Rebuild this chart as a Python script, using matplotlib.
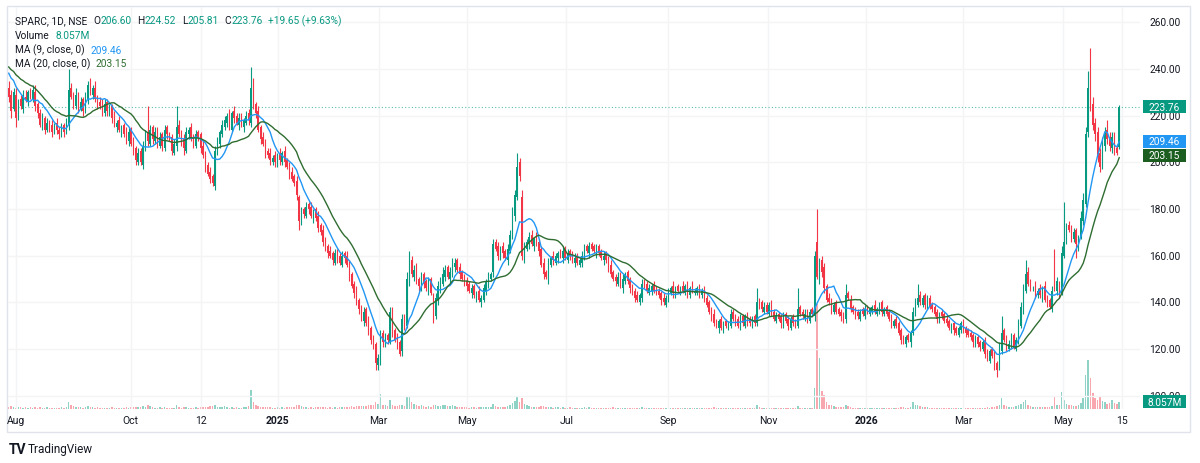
import numpy as np
import pandas as pd
import matplotlib.pyplot as plt
from matplotlib import transforms
from matplotlib.patches import Rectangle

plt.rcParams['font.family'] = ['Roboto', 'DejaVu Sans']

# closes before the first visible candle (only feed the moving averages)
warmup_closes = [246, 244, 248, 243, 245, 241, 244, 240, 242, 238,
                 243, 241, 239, 242, 240, 238, 241, 239, 236]

opens = [
    232, 229, 223, 229, 220, 227, 223, 228, 226, 230,
    227, 230, 225, 221, 216, 219, 214, 217, 216, 213,
    217, 214, 212, 216, 213, 216, 232, 228, 224, 229,
    223, 227, 222, 227, 234, 229, 232, 228, 226, 225,
    221, 226, 221, 224, 220, 215, 218, 213, 216, 213,
    209, 214, 209, 206, 200, 205, 199, 206, 213, 208,
    215, 209, 214, 207, 212, 206, 215, 211, 211, 204,
    207, 216, 213, 210, 205, 212, 215, 211, 207, 213,
    212, 207, 204, 199, 196, 194, 190, 204, 208, 212,
    215, 217, 221, 214, 222, 220, 216, 220, 215, 217,
    221, 217, 233, 225, 222, 215, 211, 209, 205, 204,
    200, 203, 199, 204, 200, 205, 201, 199, 196, 194,
    192, 185, 174, 180, 177, 182, 181, 176, 180, 177,
    173, 171, 167, 164, 162, 161, 157, 162, 160, 156,
    161, 160, 157, 152, 148, 145, 141, 138, 132, 137,
    132, 129, 125, 122, 113, 114, 127, 122, 126, 123,
    135, 128, 125, 123, 119, 134, 130, 149, 158, 151,
    155, 150, 146, 152, 149, 145, 150, 143, 134, 141,
    146, 148, 151, 155, 150, 152, 155, 158, 155, 153,
    151, 149, 148, 144, 147, 142, 145, 140, 141, 145,
    148, 150, 153, 166, 164, 159, 164, 162, 158, 162,
    168, 177, 185, 200, 185, 159, 163, 165, 169, 164,
    168, 166, 163, 157, 153, 150, 156, 160, 157, 159,
    162, 159, 163, 158, 162, 161, 157, 160, 156, 157,
    159, 164, 161, 165, 164, 161, 164, 162, 158, 161,
    159, 156, 153, 151, 148, 152, 146, 149, 153, 150,
    147, 145, 143, 140, 142, 149, 148, 144, 145, 148,
    146, 145, 144, 142, 139, 141, 144, 147, 143, 147,
    144, 147, 144, 148, 143, 147, 144, 144, 147, 143,
    146, 142, 140, 137, 135, 132, 129, 133, 128, 132,
    129, 130, 136, 134, 133, 129, 134, 130, 135, 133,
    130, 134, 131, 141, 140, 136, 139, 135, 140, 136,
    132, 135, 134, 130, 135, 133, 129, 134, 132, 130,
    138, 136, 133, 136, 132, 137, 134, 166, 150, 158,
    155, 147, 142, 141, 136, 140, 137, 136, 135, 133,
    144, 141, 138, 137, 136, 133, 137, 134, 138, 135,
    136, 139, 135, 136, 140, 135, 138, 136, 134, 130,
    133, 131, 128, 125, 122, 126, 123, 127, 135, 139,
    143, 139, 143, 138, 142, 139, 138, 136, 132, 136,
    135, 133, 132, 128, 131, 129, 126, 128, 132, 129,
    128, 127, 126, 122, 125, 123, 120, 124, 119, 115,
    120, 118, 114, 112, 119, 128, 125, 120, 121, 126,
    120, 123, 130, 137, 145, 153, 149, 146, 147, 143,
    146, 142, 147, 142, 141, 137, 151, 145, 148, 144,
    160, 167, 173, 172, 167, 171, 164, 168, 175, 182,
    213, 238, 225, 217, 213, 204, 199, 207, 214, 211,
    206, 212, 206, 206.60,
]

closes = [
    228, 222, 230, 219, 226, 224, 229, 227, 230, 228,
    231, 224, 221, 216, 219, 214, 217, 215, 213, 216,
    214, 212, 215, 213, 217, 231, 228, 225, 229, 223,
    226, 222, 228, 233, 230, 232, 227, 225, 224, 222,
    225, 222, 223, 219, 216, 217, 214, 215, 212, 210,
    213, 208, 205, 201, 204, 200, 207, 212, 209, 214,
    210, 213, 208, 211, 207, 214, 212, 210, 205, 208,
    215, 212, 209, 206, 213, 214, 210, 208, 212, 211,
    206, 203, 198, 195, 193, 191, 205, 209, 213, 216,
    218, 220, 215, 221, 219, 217, 219, 216, 218, 220,
    218, 232, 224, 221, 214, 210, 208, 204, 203, 201,
    202, 200, 203, 201, 204, 200, 198, 195, 193, 191,
    186, 175, 179, 178, 181, 180, 177, 179, 176, 172,
    170, 166, 163, 161, 160, 158, 161, 159, 157, 160,
    159, 156, 151, 147, 144, 140, 137, 133, 136, 131,
    128, 124, 121, 114, 116, 126, 123, 125, 124, 136,
    127, 124, 122, 118, 133, 129, 150, 157, 152, 154,
    149, 147, 151, 148, 146, 149, 144, 133, 142, 147,
    149, 152, 154, 151, 153, 156, 157, 154, 152, 150,
    148, 147, 145, 146, 143, 144, 141, 142, 146, 149,
    151, 152, 165, 163, 160, 163, 161, 159, 163, 169,
    178, 186, 198, 194, 160, 164, 166, 168, 165, 167,
    165, 162, 156, 152, 151, 157, 159, 158, 160, 161,
    160, 162, 159, 161, 160, 158, 159, 157, 158, 160,
    163, 162, 164, 163, 162, 163, 161, 159, 160, 158,
    155, 152, 150, 149, 151, 147, 150, 152, 149, 146,
    144, 142, 141, 143, 148, 147, 145, 146, 147, 145,
    144, 143, 141, 140, 142, 145, 146, 144, 146, 145,
    146, 145, 147, 144, 146, 145, 145, 146, 144, 145,
    141, 139, 136, 134, 131, 130, 132, 129, 131, 130,
    131, 135, 133, 132, 130, 133, 131, 134, 132, 131,
    133, 131, 140, 139, 137, 138, 136, 139, 135, 133,
    134, 133, 131, 134, 132, 130, 133, 131, 130, 137,
    135, 134, 135, 133, 136, 135, 160, 151, 156, 153,
    146, 141, 140, 137, 139, 136, 135, 134, 132, 143,
    142, 137, 136, 135, 134, 136, 135, 137, 136, 137,
    138, 136, 137, 139, 136, 137, 135, 133, 131, 132,
    130, 127, 124, 123, 125, 124, 127, 136, 140, 142,
    140, 142, 139, 141, 138, 137, 135, 133, 135, 134,
    132, 131, 129, 130, 128, 127, 129, 131, 128, 127,
    126, 125, 123, 124, 122, 121, 123, 118, 116, 119,
    117, 113, 111, 121, 127, 124, 121, 122, 125, 121,
    124, 131, 138, 146, 152, 148, 147, 146, 144, 145,
    143, 146, 141, 140, 138, 145, 146, 149, 143, 161,
    166, 172, 171, 168, 170, 165, 167, 176, 184, 212,
    232, 224, 216, 212, 203, 198, 208, 213, 210, 207,
    211, 205, 204, 223.76,
]

# wick length above / below the body
upper_wicks = [
    3, 2, 2, 3, 1, 2, 2, 3, 1, 2,  2, 3, 1, 2, 2, 1, 2, 1, 2, 1,
    2, 1, 2, 1, 2, 9, 2, 2, 3, 1,  2, 1, 2, 2, 2, 1, 3, 1, 2, 2,
    2, 1, 2, 1, 2, 1, 2, 1, 1, 2,  2, 1, 2, 1, 2, 1, 2, 2, 11, 2,
    1, 2, 1, 2, 1, 2, 1, 2, 1, 2,  9, 2, 1, 2, 2, 1, 2, 1, 2, 1,
    1, 2, 1, 1, 2, 1, 2, 2, 1, 2,  2, 1, 2, 1, 2, 1, 2, 1, 1, 2,
    2, 9, 3, 1, 2, 1, 2, 1, 1, 2,  1, 2, 1, 2, 1, 2, 1, 1, 2, 1,
    2, 1, 2, 1, 2, 1, 2, 1, 1, 2,  1, 2, 1, 1, 2, 1, 2, 1, 1, 2,
    1, 2, 1, 1, 1, 2, 1, 1, 2, 1,  2, 1, 1, 1, 2, 2, 1, 2, 1, 2,
    3, 1, 2, 1, 2, 1, 3, 5, 2, 2,  2, 1, 2, 1, 1, 2, 1, 1, 2, 2,
    2, 3, 2, 1, 2, 3, 2, 1, 2, 1,  1, 2, 1, 2, 1, 1, 2, 1, 2, 1,
    2, 1, 2, 1, 2, 1, 2, 1, 2, 2,  3, 2, 6, 2, 3, 2, 1, 2, 2, 1,
    2, 1, 1, 2, 1, 2, 1, 2, 1, 1,  1, 2, 1, 2, 1, 1, 2, 1, 1, 2,
    2, 1, 2, 1, 1, 2, 1, 1, 2, 1,  1, 2, 1, 1, 2, 1, 2, 1, 1, 1,
    1, 1, 2, 1, 2, 1, 1, 2, 1, 1,  1, 1, 1, 2, 1, 1, 1, 2, 1, 1,
    1, 2, 1, 1, 1, 2, 1, 1, 1, 1,  1, 1, 1, 1, 2, 1, 1, 1, 1, 1,
    1, 2, 1, 1, 1, 2, 1, 1, 1, 1,  1, 1, 6, 1, 1, 2, 1, 1, 1, 1,
    2, 1, 1, 2, 1, 1, 1, 1, 1, 9,  1, 1, 2, 1, 1, 1, 2, 14, 3, 2,
    2, 1, 2, 1, 1, 1, 1, 1, 1, 5,  1, 2, 1, 1, 1, 1, 1, 2, 1, 1,
    1, 2, 1, 1, 1, 1, 1, 1, 1, 1,  1, 1, 1, 1, 1, 1, 1, 2, 2, 6,
    2, 1, 1, 2, 1, 1, 1, 1, 1, 1,  1, 1, 1, 1, 1, 1, 1, 1, 1, 1,
    1, 1, 1, 2, 1, 1, 1, 1, 1, 1,  1, 1, 1, 2, 7, 1, 1, 2, 2, 1,
    1, 2, 2, 2, 6, 2, 1, 1, 2, 1,  2, 1, 2, 1, 1, 2, 12, 2, 1, 3,
    17, 2, 2, 1, 2, 1, 2, 3, 3, 3,  7, 11, 3, 2, 2, 2, 3, 2, 4, 2,
    2, 1, 2, 0.76,
]

lower_wicks = [
    2, 3, 1, 4, 2, 1, 2, 1, 2, 1,  1, 2, 2, 1, 2, 2, 1, 2, 2, 1,
    2, 2, 1, 2, 1, 2, 1, 2, 1, 2,  1, 2, 1, 2, 1, 2, 1, 2, 1, 2,
    1, 2, 1, 2, 1, 2, 1, 2, 1, 2,  2, 1, 2, 2, 1, 1, 2, 1, 2, 1,
    2, 1, 2, 1, 2, 1, 2, 1, 2, 1,  2, 1, 2, 3, 1, 2, 1, 2, 1, 2,
    2, 1, 2, 1, 2, 1, 2, 1, 2, 1,  1, 2, 1, 1, 2, 1, 2, 1, 2, 1,
    2, 2, 1, 2, 1, 2, 1, 2, 1, 2,  1, 2, 1, 2, 1, 2, 1, 2, 1, 1,
    2, 4, 1, 2, 1, 2, 1, 2, 1, 2,  1, 2, 1, 2, 1, 2, 1, 2, 1, 1,
    2, 1, 2, 1, 2, 1, 2, 1, 2, 1,  2, 2, 1, 3, 2, 1, 2, 1, 2, 1,
    2, 1, 2, 1, 2, 1, 1, 2, 1, 2,  1, 2, 1, 2, 1, 2, 1, 2, 1, 2,
    2, 1, 2, 1, 2, 1, 2, 1, 2, 1,  1, 2, 1, 2, 1, 2, 1, 2, 1, 2,
    2, 1, 2, 1, 2, 1, 2, 1, 2, 1,  1, 2, 1, 2, 2, 2, 1, 2, 1, 2,
    1, 2, 1, 2, 1, 2, 1, 2, 1, 2,  1, 2, 1, 1, 2, 1, 2, 1, 1, 2,
    1, 1, 2, 1, 1, 2, 1, 1, 2, 1,  2, 1, 1, 2, 1, 1, 2, 1, 1, 2,
    1, 2, 1, 1, 2, 1, 1, 1, 2, 1,  1, 1, 2, 1, 1, 1, 1, 2, 1, 1,
    1, 1, 1, 2, 1, 1, 1, 1, 2, 1,  1, 1, 1, 2, 1, 1, 2, 1, 1, 1,
    1, 1, 1, 2, 1, 1, 1, 1, 2, 1,  1, 1, 1, 2, 1, 1, 1, 1, 1, 1,
    1, 1, 2, 1, 1, 2, 1, 1, 1, 1,  1, 1, 1, 2, 1, 1, 2, 1, 2, 2,
    2, 1, 1, 2, 1, 1, 1, 2, 1, 2,  1, 1, 1, 2, 1, 1, 1, 1, 1, 1,
    1, 1, 1, 1, 2, 1, 1, 1, 2, 1,  1, 1, 2, 1, 1, 1, 2, 1, 1, 1,
    1, 1, 2, 1, 1, 1, 1, 2, 1, 1,  1, 1, 1, 1, 2, 1, 1, 1, 1, 2,
    1, 1, 2, 1, 1, 2, 1, 2, 1, 1,  1, 2, 3, 1, 1, 1, 2, 1, 1, 1,
    1, 1, 1, 2, 1, 1, 2, 1, 2, 1,  1, 2, 1, 2, 1, 1, 1, 2, 1, 1,
    1, 2, 1, 2, 1, 6, 2, 1, 2, 1,  2, 2, 2, 3, 3, 2, 2, 2, 2, 2,
    2, 2, 1, 0.79,
]

# volume in millions
volumes = [
    2, 3, 2, 1.5, 2, 2, 1.5, 2, 1.5, 2,  1.5, 2, 1.5, 2, 1, 1.5, 2, 1.5, 1, 1.5,
    1.5, 1, 2, 1.5, 2, 8, 4, 3, 2, 2,  2, 1.5, 2, 3, 2, 2, 1.5, 2, 1.5, 1.5,
    1.5, 1, 1.5, 2, 1.5, 1, 1.5, 1, 1.5, 2,  1.5, 2, 2, 2.5, 2, 2.5, 3, 2.5, 5, 3,
    2, 1.5, 1.5, 2, 1.5, 2, 1.5, 1, 1.5, 1.5,  4, 2, 1.5, 2, 2, 1.5, 1, 1.5, 2, 1.5,
    2, 2, 2.5, 2, 3, 3, 4, 2.5, 2, 2,  3, 2, 1.5, 2, 1.5, 2, 1.5, 1.5, 2, 2,
    3, 22, 8, 4, 3, 2.5, 2, 2, 2, 2,  1.5, 1.5, 2, 1.5, 2, 1.5, 2, 2, 2.5, 2,
    4, 5, 3, 2, 2, 1.5, 2, 1.5, 2, 2.5,  2.5, 2, 2, 1.5, 2, 1.5, 2, 1.5, 2, 2,
    2, 2, 2.5, 3, 2.5, 3, 3, 3.5, 3, 3.5,  4, 5, 4, 8, 6, 17, 5, 4, 3, 10,
    4, 3, 3, 4, 5, 3, 15, 14, 8, 6,  4, 3, 5, 3, 2.5, 3, 2.5, 5, 4, 3,
    3, 4, 5, 3, 3, 4, 3, 2.5, 2, 2,  2, 2, 1.5, 2, 2, 1.5, 2, 2, 2, 2.5,
    2.5, 2, 6, 3, 2, 2.5, 2, 2, 3, 5,  7, 9, 14, 8, 12, 6, 4, 3, 2.5, 2.5,
    2.5, 2, 3, 3, 2.5, 2, 2, 1.5, 2, 2,  1.5, 2, 1.5, 1.5, 2, 1.5, 1.5, 1, 1.5, 1.5,
    2, 1.5, 2, 1.5, 1.5, 1.5, 1, 1.5, 1.5, 1,  1.5, 1.5, 2, 1.5, 1, 1.5, 1.5, 1, 1.5, 1.5,
    1.5, 1.5, 1, 1.5, 2, 1.5, 1, 1, 1.5, 1,  1, 1, 1.5, 1, 1, 1.5, 1, 1, 1, 1,
    1, 1, 1.5, 1, 1, 1, 1, 1.5, 1, 1,  1.5, 1, 1.5, 1.5, 2, 1.5, 1, 1.5, 1, 1,
    1, 1.5, 1, 1, 1, 1.5, 1, 1, 1, 1,  1, 1, 4, 2, 1.5, 1.5, 1, 1.5, 1, 1,
    1, 1, 1, 1.5, 1, 1, 1, 1, 1, 3,  1.5, 1, 1, 1, 1.5, 1, 24, 120, 58, 20,
    16, 8, 5, 4, 3, 2.5, 2, 2, 2, 5,  3, 2, 1.5, 1.5, 1.5, 1, 1.5, 1.5, 1, 1,
    1, 1.5, 1, 1, 1.5, 1, 1, 1, 1.5, 1,  1.5, 1.5, 2, 2, 1.5, 1.5, 2, 8, 5, 4,
    3, 2.5, 2, 2, 1.5, 1.5, 1.5, 1.5, 1, 1,  1, 1, 1, 1, 1, 1, 1, 1.5, 1, 1,
    1, 1, 1, 1, 1.5, 1, 1, 1.5, 2, 1.5,  2, 2.5, 3, 4, 13, 5, 3, 2, 2.5, 2,
    3, 4, 6, 8, 10, 5, 3, 2.5, 2, 2,  2, 2.5, 2, 2, 2, 3, 14, 5, 4, 19,
    10, 6, 5, 4, 3, 3, 4, 7, 12, 39,  56, 35, 18, 12, 10, 14, 9, 8, 6, 7,
    10, 7, 6, 8.057,
]

tick_labels = ['Aug', 'Oct', '12', '2025', 'Mar', 'May', 'Jul', 'Sep', 'Nov',
               '2026', 'Mar', 'May', '15']
tick_idx = [2.9, 50.8, 80, 112.1, 154.2, 191.2, 232.5, 275, 316.7,
            357.5, 398, 439.6, 464.2]
price_ticks = [100, 120, 140, 160, 180, 200, 220, 240, 260]

assert len(opens) == len(closes) == len(upper_wicks) == len(lower_wicks) == len(volumes)

UP = '#089981'
DOWN = '#f23645'
BLUE = '#2196f3'
MA20_LINE = '#2f6d31'
MA20_BADGE = '#1b5e20'
TEXT = '#131722'
GRID = '#f3f4f6'
FS = 7.3

o = np.array(opens, float)
c = np.array(closes, float)
hi = np.maximum(o, c) + np.array(upper_wicks, float)
lo = np.minimum(o, c) - np.array(lower_wicks, float)
x = np.arange(len(c))
up = c >= o
colors = np.where(up, UP, DOWN)

allc = pd.Series(warmup_closes + closes, dtype=float)
nw = len(warmup_closes)
ma9 = allc.rolling(9).mean().iloc[nw:].to_numpy()
ma20 = allc.rolling(20).mean().iloc[nw:].to_numpy()

W, H = 1200, 464
fig = plt.figure(figsize=(12, 4.64), dpi=100)
fig.patch.set_facecolor('white')
L, R, T, B = 8, 1140, 8, 410
ax = fig.add_axes([L / W, 1 - B / H, (R - L) / W, (B - T) / H])
vax = ax.twinx()
ax.set_zorder(vax.get_zorder() + 1)
ax.patch.set_visible(False)

y0, y1 = 94.3, 266.6
vol_top = 458
xlim = (-0.3, (R - L) / 2.4)

# volume
vcol = np.where(up, '#8fd3c7', '#f7a7ad')
vax.bar(x, volumes, width=0.62, color=vcol, linewidth=0)
vax.set_ylim(0, vol_top)
vax.set_xlim(*xlim)
vax.axis('off')

# grid
ax.set_xlim(*xlim)
ax.set_ylim(y0, y1)
ax.set_xticks(tick_idx)
ax.set_yticks(price_ticks)
ax.grid(True, color=GRID, linewidth=1)
ax.tick_params(length=0, labelbottom=False, labelleft=False)
for s in ax.spines.values():
    s.set_visible(False)

# candles
ax.vlines(x, lo, hi, colors=colors, linewidth=0.8, zorder=3)
ax.bar(x, np.maximum(np.abs(c - o), 0.35), bottom=np.minimum(o, c),
       width=0.62, color=colors, linewidth=0, zorder=3)

# moving averages
ax.plot(x, ma9, color=BLUE, linewidth=1, zorder=4)
ax.plot(x, ma20, color=MA20_LINE, linewidth=1, zorder=4)

# last price line
ax.axhline(c[-1], color='#5dbfae', linewidth=0.8, linestyle=(0, (1, 2)), zorder=2)

# right price scale
ty = transforms.blended_transform_factory(fig.transFigure, ax.transData)
for p in price_ticks:
    ax.text(1165 / W, p, f'{p:.2f}', transform=ty, ha='center', va='center',
            fontsize=FS, color=TEXT, clip_on=False, zorder=5)

units_per_px = (y1 - y0) / (B - T)


def badge(yval, label, color):
    h = 13 * units_per_px
    ax.add_patch(Rectangle((1143 / W, yval - h / 2), 43 / W, h, transform=ty,
                           facecolor=color, edgecolor='none', clip_on=False, zorder=6))
    ax.text(1164.5 / W, yval, label, transform=ty, ha='center', va='center',
            fontsize=FS, color='white', clip_on=False, zorder=7)


badge(c[-1], f'{c[-1]:.2f}', UP)
badge(ma9[-1] + 0.2, '209.46', BLUE)
badge(ma20[-1] + 1.0, '203.15', MA20_BADGE)
badge(y0 + volumes[-1] / vol_top * (y1 - y0), '8.057M', UP)

# time scale
tx = transforms.blended_transform_factory(ax.transData, fig.transFigure)
for i, lab in zip(tick_idx, tick_labels):
    bold = lab in ('2025', '2026')
    ax.text(i, 1 - 421 / H, lab, transform=tx, ha='center', va='center',
            fontsize=7.5, color=TEXT, fontweight='bold' if bold else 'normal',
            clip_on=False)

# legend lines
def chain(parts, px, py):
    t = ax.text(px / W, 1 - py / H, parts[0][0], transform=fig.transFigure,
                color=parts[0][1], fontsize=FS, va='center', ha='left', zorder=8)
    for s, col, gap in parts[1:]:
        t = ax.annotate(s, xy=(1, 0.5), xycoords=t, xytext=(gap, 0),
                        textcoords='offset points', color=col, fontsize=FS,
                        va='center', ha='left', annotation_clip=False, zorder=8)


chain([('SPARC, 1D, NSE', TEXT), ('O', TEXT, 4.3), ('206.60', UP, 0),
       ('H', TEXT, 4.3), ('224.52', UP, 0), ('L', TEXT, 4.3), ('205.81', UP, 0),
       ('C', TEXT, 4.3), ('223.76', UP, 0), ('+19.65 (+9.63%)', UP, 4.3)], 15, 21)
chain([('Volume', TEXT), ('8.057M', UP, 4)], 15, 36)
chain([('MA (9, close, 0)', TEXT), ('209.46', BLUE, 4)], 15, 50.5)
chain([('MA (20, close, 0)', TEXT), ('203.15', MA20_LINE, 4)], 15, 64)

# frame and branding
fig.add_artist(Rectangle((7 / W, 1 - 433 / H), (1190 - 7) / W, (433 - 7) / H,
                         fill=False, edgecolor='#e0e3eb', linewidth=1,
                         transform=fig.transFigure))
fig.text(9 / W, 1 - 450 / H, 'TV', fontsize=10, fontweight='bold', color=TEXT,
         va='center', ha='left')
fig.text(28 / W, 1 - 450 / H, 'TradingView', fontsize=8.5, color=TEXT,
         va='center', ha='left')

plt.savefig('out.png', dpi=100)
